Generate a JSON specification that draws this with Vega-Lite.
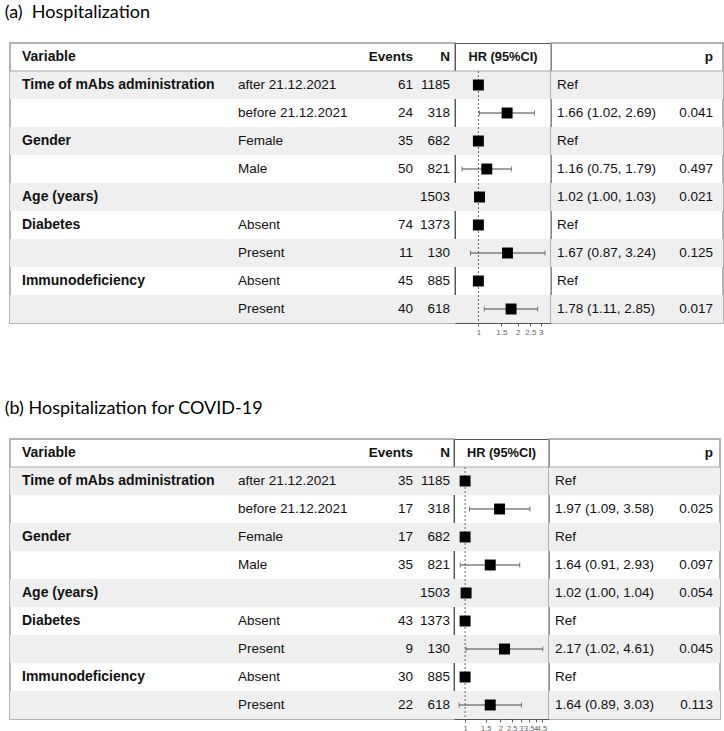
{
  "$schema": "https://vega.github.io/schema/vega-lite/v6.json",
  "padding": {"left": 4, "top": 4, "right": 0, "bottom": 0},
  "config": {
    "view": {"stroke": "#9a9a9a", "strokeWidth": 1.5},
    "text": {"font": "Liberation Sans", "fontSize": 13.5, "color": "#111"},
    "concat": {"spacing": 0}
  },
  "datasets": {
    "a": [
      {"row": 1, "variable": "Time of mAbs administration", "level": "after 21.12.2021", "events": 61, "n": 1185, "hr": 1, "est": "Ref"},
      {"row": 2, "level": "before 21.12.2021", "events": 24, "n": 318, "hr": 1.66, "lo": 1.02, "hi": 2.69, "est": "1.66 (1.02, 2.69)", "p": 0.041},
      {"row": 3, "variable": "Gender", "level": "Female", "events": 35, "n": 682, "hr": 1, "est": "Ref"},
      {"row": 4, "level": "Male", "events": 50, "n": 821, "hr": 1.16, "lo": 0.75, "hi": 1.79, "est": "1.16 (0.75, 1.79)", "p": 0.497},
      {"row": 5, "variable": "Age (years)", "n": 1503, "hr": 1.02, "lo": 1.0, "hi": 1.03, "est": "1.02 (1.00, 1.03)", "p": 0.021},
      {"row": 6, "variable": "Diabetes", "level": "Absent", "events": 74, "n": 1373, "hr": 1, "est": "Ref"},
      {"row": 7, "level": "Present", "events": 11, "n": 130, "hr": 1.67, "lo": 0.87, "hi": 3.24, "est": "1.67 (0.87, 3.24)", "p": 0.125},
      {"row": 8, "variable": "Immunodeficiency", "level": "Absent", "events": 45, "n": 885, "hr": 1, "est": "Ref"},
      {"row": 9, "level": "Present", "events": 40, "n": 618, "hr": 1.78, "lo": 1.11, "hi": 2.85, "est": "1.78 (1.11, 2.85)", "p": 0.017}
    ],
    "b": [
      {"row": 1, "variable": "Time of mAbs administration", "level": "after 21.12.2021", "events": 35, "n": 1185, "hr": 1, "est": "Ref"},
      {"row": 2, "level": "before 21.12.2021", "events": 17, "n": 318, "hr": 1.97, "lo": 1.09, "hi": 3.58, "est": "1.97 (1.09, 3.58)", "p": 0.025},
      {"row": 3, "variable": "Gender", "level": "Female", "events": 17, "n": 682, "hr": 1, "est": "Ref"},
      {"row": 4, "level": "Male", "events": 35, "n": 821, "hr": 1.64, "lo": 0.91, "hi": 2.93, "est": "1.64 (0.91, 2.93)", "p": 0.097},
      {"row": 5, "variable": "Age (years)", "n": 1503, "hr": 1.02, "lo": 1.0, "hi": 1.04, "est": "1.02 (1.00, 1.04)", "p": 0.054},
      {"row": 6, "variable": "Diabetes", "level": "Absent", "events": 43, "n": 1373, "hr": 1, "est": "Ref"},
      {"row": 7, "level": "Present", "events": 9, "n": 130, "hr": 2.17, "lo": 1.02, "hi": 4.61, "est": "2.17 (1.02, 4.61)", "p": 0.045},
      {"row": 8, "variable": "Immunodeficiency", "level": "Absent", "events": 30, "n": 885, "hr": 1, "est": "Ref"},
      {"row": 9, "level": "Present", "events": 22, "n": 618, "hr": 1.64, "lo": 0.89, "hi": 3.03, "est": "1.64 (0.89, 3.03)", "p": 0.113}
    ]
  },
  "spacing": 63,
  "vconcat": [
    {
      "title": {"text": "(a)\u00a0 Hospitalization", "anchor": "start", "font": "Lato", "fontSize": 18, "fontWeight": "normal", "color": "#000", "offset": 20, "dx": -4},
      "spacing": 0,
      "bounds": "flush",
      "hconcat": [
        {
          "width": 445, "height": 280,
          "layer": [
            {"data": {"name": "a"}, "transform": [{"filter": "datum.row % 2 == 1"}], "mark": {"type": "rect", "fill": "#efefef"},
             "encoding": {"y": {"field": "row", "type": "ordinal", "scale": {"domain": [0,1,2,3,4,5,6,7,8,9], "paddingInner": 0, "paddingOuter": 0}, "axis": null}}},
            {"data": {"values": [{"row": 0}]}, "mark": {"type": "rule", "color": "#a8a8a8", "strokeWidth": 1},
             "encoding": {"y": {"field": "row", "type": "ordinal", "bandPosition": 1, "scale": {"domain": [0,1,2,3,4,5,6,7,8,9], "paddingInner": 0, "paddingOuter": 0}, "axis": null}}},
            {"data": {"values": [{"row": 0, "t": "Variable"}]}, "mark": {"type": "text", "align": "left", "fontWeight": "bold", "fontSize": 14},
             "encoding": {"x": {"datum": 12, "type": "quantitative", "scale": {"domain": [0, 445], "nice": false, "zero": false}, "axis": null},
                          "y": {"field": "row", "type": "ordinal", "axis": null}, "text": {"field": "t"}}},
            {"data": {"values": [{"row": 0, "t": "Events"}]}, "mark": {"type": "text", "align": "right", "fontWeight": "bold"},
             "encoding": {"x": {"datum": 403, "type": "quantitative", "axis": null},
                          "y": {"field": "row", "type": "ordinal", "axis": null}, "text": {"field": "t"}}},
            {"data": {"values": [{"row": 0, "t": "N"}]}, "mark": {"type": "text", "align": "right", "fontWeight": "bold"},
             "encoding": {"x": {"datum": 440, "type": "quantitative", "axis": null},
                          "y": {"field": "row", "type": "ordinal", "axis": null}, "text": {"field": "t"}}},
            {"data": {"name": "a"}, "transform": [{"filter": "isValid(datum.variable)"}], "mark": {"type": "text", "align": "left", "fontWeight": "bold", "fontSize": 14},
             "encoding": {"x": {"datum": 12, "type": "quantitative", "axis": null},
                          "y": {"field": "row", "type": "ordinal", "axis": null}, "text": {"field": "variable"}}},
            {"data": {"name": "a"}, "transform": [{"filter": "isValid(datum.level)"}], "mark": {"type": "text", "align": "left"},
             "encoding": {"x": {"datum": 228, "type": "quantitative", "axis": null},
                          "y": {"field": "row", "type": "ordinal", "axis": null}, "text": {"field": "level"}}},
            {"data": {"name": "a"}, "transform": [{"filter": "isValid(datum.events)"}], "mark": {"type": "text", "align": "right"},
             "encoding": {"x": {"datum": 403, "type": "quantitative", "axis": null},
                          "y": {"field": "row", "type": "ordinal", "axis": null}, "text": {"field": "events", "type": "nominal"}}},
            {"data": {"name": "a"}, "mark": {"type": "text", "align": "right"},
             "encoding": {"x": {"datum": 440, "type": "quantitative", "axis": null},
                          "y": {"field": "row", "type": "ordinal", "axis": null}, "text": {"field": "n", "type": "nominal"}}}
          ]
        },
        {
          "width": 96, "height": 280,
          "view": {"stroke": "#555", "strokeWidth": 1},
          "layer": [
            {"data": {"name": "a"}, "transform": [{"filter": "datum.row % 2 == 1"}], "mark": {"type": "rect", "fill": "#efefef"},
             "encoding": {"y": {"field": "row", "type": "ordinal", "scale": {"domain": [0,1,2,3,4,5,6,7,8,9], "paddingInner": 0, "paddingOuter": 0}, "axis": null}}},
            {"data": {"values": [{"row": 0}]}, "mark": {"type": "rule", "color": "#a8a8a8", "strokeWidth": 1},
             "encoding": {"y": {"field": "row", "type": "ordinal", "bandPosition": 1, "axis": null}}},
            {"data": {"values": [{"row": 0}]}, "mark": {"type": "rule", "color": "#666", "strokeWidth": 1, "strokeDash": [2, 2]},
             "encoding": {"x": {"datum": 1, "type": "quantitative", "scale": {"type": "log", "domain": [0.662, 3.6], "nice": false},
                                "axis": {"values": [1, 1.5, 2, 2.5, 3], "format": "~g", "labelFontSize": 8, "labelColor": "#666", "labelFont": "Liberation Sans", "tickColor": "#666", "tickSize": 3, "labelPadding": 2, "domain": false, "grid": false, "title": null}},
                          "y": {"datum": 1, "type": "ordinal", "bandPosition": 0, "axis": null},
                          "y2": {"datum": 9, "bandPosition": 1}}},
            {"data": {"name": "a"}, "transform": [{"filter": "isValid(datum.lo)"}], "mark": {"type": "rule", "color": "#444", "strokeWidth": 1},
             "encoding": {"x": {"field": "lo", "type": "quantitative"}, "x2": {"field": "hi"},
                          "y": {"field": "row", "type": "ordinal", "axis": null}}},
            {"data": {"name": "a"}, "transform": [{"filter": "isValid(datum.lo)"}], "mark": {"type": "tick", "color": "#444", "size": 5, "thickness": 1, "orient": "vertical"},
             "encoding": {"x": {"field": "lo", "type": "quantitative"},
                          "y": {"field": "row", "type": "ordinal", "axis": null}}},
            {"data": {"name": "a"}, "transform": [{"filter": "isValid(datum.hi)"}], "mark": {"type": "tick", "color": "#444", "size": 5, "thickness": 1, "orient": "vertical"},
             "encoding": {"x": {"field": "hi", "type": "quantitative"},
                          "y": {"field": "row", "type": "ordinal", "axis": null}}},
            {"data": {"name": "a"}, "mark": {"type": "point", "shape": "square", "filled": true, "size": 120, "color": "#000", "opacity": 1},
             "encoding": {"x": {"field": "hr", "type": "quantitative"},
                          "y": {"field": "row", "type": "ordinal", "axis": null}}},
            {"data": {"values": [{"row": 0, "t": "HR (95%CI)"}]}, "mark": {"type": "text", "fontWeight": "bold", "fontSize": 12.8},
             "encoding": {"y": {"field": "row", "type": "ordinal", "axis": null}, "text": {"field": "t"}}}
          ]
        },
        {
          "width": 172, "height": 280,
          "layer": [
            {"data": {"name": "a"}, "transform": [{"filter": "datum.row % 2 == 1"}], "mark": {"type": "rect", "fill": "#efefef"},
             "encoding": {"y": {"field": "row", "type": "ordinal", "scale": {"domain": [0,1,2,3,4,5,6,7,8,9], "paddingInner": 0, "paddingOuter": 0}, "axis": null}}},
            {"data": {"values": [{"row": 0}]}, "mark": {"type": "rule", "color": "#a8a8a8", "strokeWidth": 1},
             "encoding": {"y": {"field": "row", "type": "ordinal", "bandPosition": 1, "axis": null}}},
            {"data": {"values": [{"row": 0, "t": "p"}]}, "mark": {"type": "text", "align": "right", "fontWeight": "bold"},
             "encoding": {"x": {"datum": 162, "type": "quantitative", "scale": {"domain": [0, 172], "nice": false, "zero": false}, "axis": null},
                          "y": {"field": "row", "type": "ordinal", "axis": null}, "text": {"field": "t"}}},
            {"data": {"name": "a"}, "mark": {"type": "text", "align": "left"},
             "encoding": {"x": {"datum": 6, "type": "quantitative", "axis": null},
                          "y": {"field": "row", "type": "ordinal", "axis": null}, "text": {"field": "est"}}},
            {"data": {"name": "a"}, "transform": [{"filter": "isValid(datum.p)"}], "mark": {"type": "text", "align": "right"},
             "encoding": {"x": {"datum": 162, "type": "quantitative", "axis": null},
                          "y": {"field": "row", "type": "ordinal", "axis": null}, "text": {"field": "p", "type": "quantitative", "format": ".3f"}}}
          ]
        }
      ]
    },
    {
      "title": {"text": "(b) Hospitalization for COVID-19", "anchor": "start", "font": "Lato", "fontSize": 18, "fontWeight": "normal", "color": "#000", "offset": 20, "dx": -4},
      "spacing": 0,
      "bounds": "flush",
      "hconcat": [
        {
          "width": 444, "height": 280,
          "layer": [
            {"data": {"name": "b"}, "transform": [{"filter": "datum.row % 2 == 1"}], "mark": {"type": "rect", "fill": "#efefef"},
             "encoding": {"y": {"field": "row", "type": "ordinal", "scale": {"domain": [0,1,2,3,4,5,6,7,8,9], "paddingInner": 0, "paddingOuter": 0}, "axis": null}}},
            {"data": {"values": [{"row": 0}]}, "mark": {"type": "rule", "color": "#a8a8a8", "strokeWidth": 1},
             "encoding": {"y": {"field": "row", "type": "ordinal", "bandPosition": 1, "axis": null}}},
            {"data": {"values": [{"row": 0, "t": "Variable"}]}, "mark": {"type": "text", "align": "left", "fontWeight": "bold", "fontSize": 14},
             "encoding": {"x": {"datum": 12, "type": "quantitative", "scale": {"domain": [0, 444], "nice": false, "zero": false}, "axis": null},
                          "y": {"field": "row", "type": "ordinal", "axis": null}, "text": {"field": "t"}}},
            {"data": {"values": [{"row": 0, "t": "Events"}]}, "mark": {"type": "text", "align": "right", "fontWeight": "bold"},
             "encoding": {"x": {"datum": 403, "type": "quantitative", "axis": null},
                          "y": {"field": "row", "type": "ordinal", "axis": null}, "text": {"field": "t"}}},
            {"data": {"values": [{"row": 0, "t": "N"}]}, "mark": {"type": "text", "align": "right", "fontWeight": "bold"},
             "encoding": {"x": {"datum": 440, "type": "quantitative", "axis": null},
                          "y": {"field": "row", "type": "ordinal", "axis": null}, "text": {"field": "t"}}},
            {"data": {"name": "b"}, "transform": [{"filter": "isValid(datum.variable)"}], "mark": {"type": "text", "align": "left", "fontWeight": "bold", "fontSize": 14},
             "encoding": {"x": {"datum": 12, "type": "quantitative", "axis": null},
                          "y": {"field": "row", "type": "ordinal", "axis": null}, "text": {"field": "variable"}}},
            {"data": {"name": "b"}, "transform": [{"filter": "isValid(datum.level)"}], "mark": {"type": "text", "align": "left"},
             "encoding": {"x": {"datum": 228, "type": "quantitative", "axis": null},
                          "y": {"field": "row", "type": "ordinal", "axis": null}, "text": {"field": "level"}}},
            {"data": {"name": "b"}, "transform": [{"filter": "isValid(datum.events)"}], "mark": {"type": "text", "align": "right"},
             "encoding": {"x": {"datum": 403, "type": "quantitative", "axis": null},
                          "y": {"field": "row", "type": "ordinal", "axis": null}, "text": {"field": "events", "type": "nominal"}}},
            {"data": {"name": "b"}, "mark": {"type": "text", "align": "right"},
             "encoding": {"x": {"datum": 440, "type": "quantitative", "axis": null},
                          "y": {"field": "row", "type": "ordinal", "axis": null}, "text": {"field": "n", "type": "nominal"}}}
          ]
        },
        {
          "width": 95, "height": 280,
          "view": {"stroke": "#555", "strokeWidth": 1},
          "layer": [
            {"data": {"name": "b"}, "transform": [{"filter": "datum.row % 2 == 1"}], "mark": {"type": "rect", "fill": "#efefef"},
             "encoding": {"y": {"field": "row", "type": "ordinal", "scale": {"domain": [0,1,2,3,4,5,6,7,8,9], "paddingInner": 0, "paddingOuter": 0}, "axis": null}}},
            {"data": {"values": [{"row": 0}]}, "mark": {"type": "rule", "color": "#a8a8a8", "strokeWidth": 1},
             "encoding": {"y": {"field": "row", "type": "ordinal", "bandPosition": 1, "axis": null}}},
            {"data": {"values": [{"row": 0}]}, "mark": {"type": "rule", "color": "#666", "strokeWidth": 1, "strokeDash": [2, 2]},
             "encoding": {"x": {"datum": 1, "type": "quantitative", "scale": {"type": "log", "domain": [0.804, 5.21], "nice": false},
                                "axis": {"values": [1, 1.5, 2, 2.5, 3, 3.5, 4, 4.5], "format": "~g", "labelFontSize": 7.5, "labelColor": "#666", "labelFont": "Liberation Sans", "labelOverlap": false, "tickColor": "#666", "tickSize": 3, "labelPadding": 2, "domain": false, "grid": false, "title": null}},
                          "y": {"datum": 1, "type": "ordinal", "bandPosition": 0, "axis": null},
                          "y2": {"datum": 9, "bandPosition": 1}}},
            {"data": {"name": "b"}, "transform": [{"filter": "isValid(datum.lo)"}], "mark": {"type": "rule", "color": "#444", "strokeWidth": 1},
             "encoding": {"x": {"field": "lo", "type": "quantitative"}, "x2": {"field": "hi"},
                          "y": {"field": "row", "type": "ordinal", "axis": null}}},
            {"data": {"name": "b"}, "transform": [{"filter": "isValid(datum.lo)"}], "mark": {"type": "tick", "color": "#444", "size": 5, "thickness": 1, "orient": "vertical"},
             "encoding": {"x": {"field": "lo", "type": "quantitative"},
                          "y": {"field": "row", "type": "ordinal", "axis": null}}},
            {"data": {"name": "b"}, "transform": [{"filter": "isValid(datum.hi)"}], "mark": {"type": "tick", "color": "#444", "size": 5, "thickness": 1, "orient": "vertical"},
             "encoding": {"x": {"field": "hi", "type": "quantitative"},
                          "y": {"field": "row", "type": "ordinal", "axis": null}}},
            {"data": {"name": "b"}, "mark": {"type": "point", "shape": "square", "filled": true, "size": 120, "color": "#000", "opacity": 1},
             "encoding": {"x": {"field": "hr", "type": "quantitative"},
                          "y": {"field": "row", "type": "ordinal", "axis": null}}},
            {"data": {"values": [{"row": 0, "t": "HR (95%CI)"}]}, "mark": {"type": "text", "fontWeight": "bold", "fontSize": 12.8},
             "encoding": {"y": {"field": "row", "type": "ordinal", "axis": null}, "text": {"field": "t"}}}
          ]
        },
        {
          "width": 171, "height": 280,
          "layer": [
            {"data": {"name": "b"}, "transform": [{"filter": "datum.row % 2 == 1"}], "mark": {"type": "rect", "fill": "#efefef"},
             "encoding": {"y": {"field": "row", "type": "ordinal", "scale": {"domain": [0,1,2,3,4,5,6,7,8,9], "paddingInner": 0, "paddingOuter": 0}, "axis": null}}},
            {"data": {"values": [{"row": 0}]}, "mark": {"type": "rule", "color": "#a8a8a8", "strokeWidth": 1},
             "encoding": {"y": {"field": "row", "type": "ordinal", "bandPosition": 1, "axis": null}}},
            {"data": {"values": [{"row": 0, "t": "p"}]}, "mark": {"type": "text", "align": "right", "fontWeight": "bold"},
             "encoding": {"x": {"datum": 164, "type": "quantitative", "scale": {"domain": [0, 171], "nice": false, "zero": false}, "axis": null},
                          "y": {"field": "row", "type": "ordinal", "axis": null}, "text": {"field": "t"}}},
            {"data": {"name": "b"}, "mark": {"type": "text", "align": "left"},
             "encoding": {"x": {"datum": 6, "type": "quantitative", "axis": null},
                          "y": {"field": "row", "type": "ordinal", "axis": null}, "text": {"field": "est"}}},
            {"data": {"name": "b"}, "transform": [{"filter": "isValid(datum.p)"}], "mark": {"type": "text", "align": "right"},
             "encoding": {"x": {"datum": 164, "type": "quantitative", "axis": null},
                          "y": {"field": "row", "type": "ordinal", "axis": null}, "text": {"field": "p", "type": "quantitative", "format": ".3f"}}}
          ]
        }
      ]
    }
  ]
}
